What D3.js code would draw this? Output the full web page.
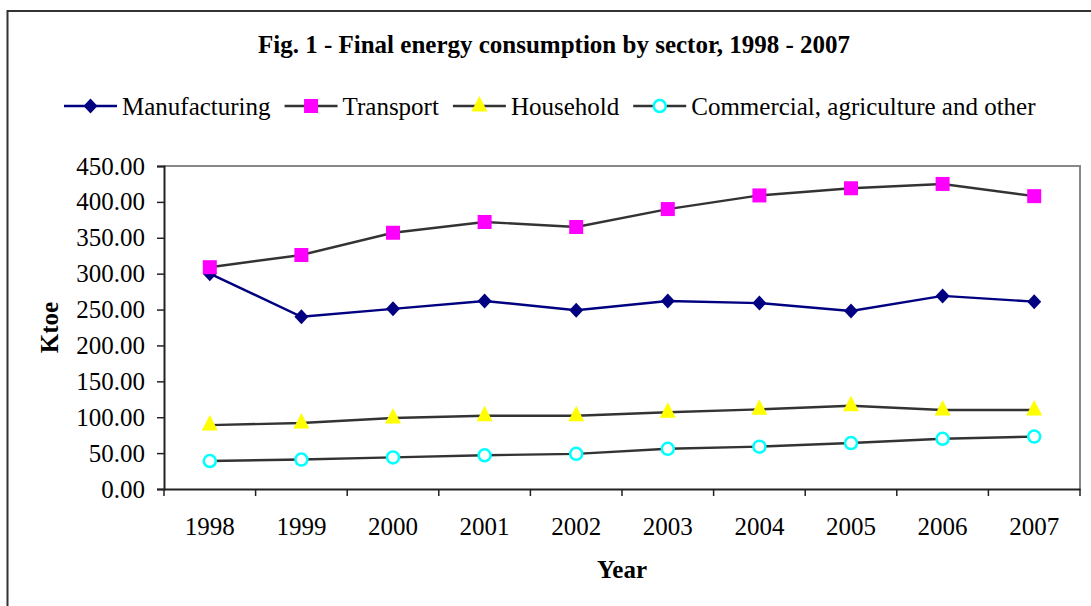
<!DOCTYPE html>
<html>
<head>
<meta charset="utf-8">
<script src="https://cdn.jsdelivr.net/npm/d3@7"></script>
<style>
  body { margin: 0; background: #fff; }
  svg text { font-family: "Liberation Serif", "Times New Roman", serif; fill: #000; }
</style>
</head>
<body>
<div id="chart"></div>
<script>
// data (ktoe)
var years = ["1998", "1999", "2000", "2001", "2002", "2003", "2004", "2005", "2006", "2007"];
var manufacturing = [300, 240, 251, 262, 249, 262, 259, 248, 269, 261];
var transport = [309, 326, 357, 372, 365, 390, 409, 419, 425, 408];
var household = [89, 92, 99, 102, 102, 107, 111, 116, 110, 110];
var commercial = [39, 41, 44, 47, 49, 56, 59, 64, 70, 73];
var yTicks = [0, 50, 100, 150, 200, 250, 300, 350, 400, 450];
var seriesNames = ["Manufacturing", "Transport", "Household", "Commercial, agriculture and other"];

var W = 1091, H = 606;
var margin = { left: 164, right: 11, top: 166, bottom: 117 };
var serif = "'Liberation Serif', 'Times New Roman', serif";

var svg = d3.select("#chart")
    .append("svg")
    .attr("width", W)
    .attr("height", H);

// outer chart frame
svg.append("rect")
    .attr("x", 7.5)
    .attr("y", 11)
    .attr("width", W)
    .attr("height", H)
    .attr("fill", "none")
    .attr("stroke", "#333")
    .attr("stroke-width", 2);

var x = d3.scaleBand()
    .domain(years)
    .range([margin.left, W - margin.right]);

var y = d3.scaleLinear()
    .domain([0, 450])
    .range([H - margin.bottom, margin.top]);

var series = [
    { name: seriesNames[0], values: manufacturing, line: "#000080", marker: "diamond", color: "#000080" },
    { name: seriesNames[1], values: transport, line: "#333", marker: "square", color: "#ff00ff" },
    { name: seriesNames[2], values: household, line: "#333", marker: "triangle", color: "#ffff00" },
    { name: seriesNames[3], values: commercial, line: "#333", marker: "circle", color: "#00ffff" }
];

// plot frame: grey on top and right
svg.append("path")
    .attr("d", "M" + x.range()[0] + "," + y(450) + "H" + x.range()[1] + "V" + y(0))
    .attr("fill", "none")
    .attr("stroke", "#888")
    .attr("stroke-width", 2);

// y axis
var yAxis = svg.append("g")
    .attr("transform", "translate(" + x.range()[0] + ",0)")
    .call(d3.axisLeft(y).tickValues(yTicks).tickFormat(d3.format(".2f")).tickSize(7).tickPadding(12))
    .attr("font-family", serif);
yAxis.selectAll("text").style("font-size", "25px").style("font-family", serif);

// x axis, labels at band centres, ticks at band edges
var xAxis = svg.append("g")
    .attr("transform", "translate(0," + y(0) + ")")
    .call(d3.axisBottom(x).tickSize(0).tickPadding(28))
    .attr("font-family", serif);
xAxis.selectAll("text").style("font-size", "25px").style("font-family", serif);

var edges = years.map(function (d) { return x(d); }).concat([x.range()[1]]);
xAxis.selectAll(".edge")
    .data(edges)
    .enter().append("line")
    .attr("class", "edge")
    .attr("x1", function (d) { return d; })
    .attr("x2", function (d) { return d; })
    .attr("y1", 0)
    .attr("y2", 7)
    .attr("stroke", "#222")
    .attr("stroke-width", 1.5);

svg.selectAll(".domain").attr("stroke", "#222").attr("stroke-width", 2);
svg.selectAll(".tick line").attr("stroke", "#222").attr("stroke-width", 1.5);

// marker shapes
function drawMarker(g, type, color) {
    if (type == "diamond") {
        g.append("path").attr("d", "M0,-7.5L7,0L0,7.5L-7,0Z").attr("fill", color);
    } else if (type == "square") {
        g.append("rect").attr("x", -7).attr("y", -7).attr("width", 14).attr("height", 14).attr("fill", color);
    } else if (type == "triangle") {
        g.append("path").attr("d", "M0,-10L8,5.5L-8,5.5Z").attr("fill", color);
    } else {
        g.append("circle").attr("r", 6).attr("fill", "#fff").attr("stroke", color).attr("stroke-width", 2.5);
    }
}

var line = d3.line()
    .x(function (d, i) { return x(years[i]) + x.bandwidth() / 2; })
    .y(function (d) { return y(d); });

series.forEach(function (s) {
    svg.append("path")
        .datum(s.values)
        .attr("d", line)
        .attr("fill", "none")
        .attr("stroke", s.line)
        .attr("stroke-width", 2.4);

    svg.append("g")
        .selectAll("g")
        .data(s.values)
        .enter()
        .append("g")
        .attr("transform", function (d, i) { return "translate(" + (x(years[i]) + x.bandwidth() / 2) + "," + y(d) + ")"; })
        .each(function () { drawMarker(d3.select(this), s.marker, s.color); });
});

// title
svg.append("text")
    .attr("x", 554)
    .attr("y", 53)
    .attr("text-anchor", "middle")
    .style("font-size", "25px")
    .style("font-weight", "bold")
    .text("Fig. 1 - Final energy consumption by sector, 1998 - 2007");

// legend, laid out left to right
var legX = 64, legY = 106;
series.forEach(function (s) {
    var g = svg.append("g").attr("transform", "translate(" + legX + "," + legY + ")");
    g.append("line")
        .attr("x1", 0).attr("x2", 53)
        .attr("y1", 0).attr("y2", 0)
        .attr("stroke", s.line)
        .attr("stroke-width", 2.4);
    var m = g.append("g").attr("transform", "translate(26.5,0)");
    drawMarker(m, s.marker, s.color);
    var t = g.append("text")
        .attr("x", 58)
        .attr("y", 8.5)
        .style("font-size", "25px")
        .text(s.name);
    legX += 58 + t.node().getComputedTextLength() + 14;
});

// axis titles
svg.append("text")
    .attr("transform", "translate(58," + (y(225)) + ") rotate(-90)")
    .attr("text-anchor", "middle")
    .style("font-size", "25px")
    .style("font-weight", "bold")
    .text("Ktoe");

svg.append("text")
    .attr("x", (x.range()[0] + x.range()[1]) / 2)
    .attr("y", 578)
    .attr("text-anchor", "middle")
    .style("font-size", "25px")
    .style("font-weight", "bold")
    .text("Year");
</script>
</body>
</html>
